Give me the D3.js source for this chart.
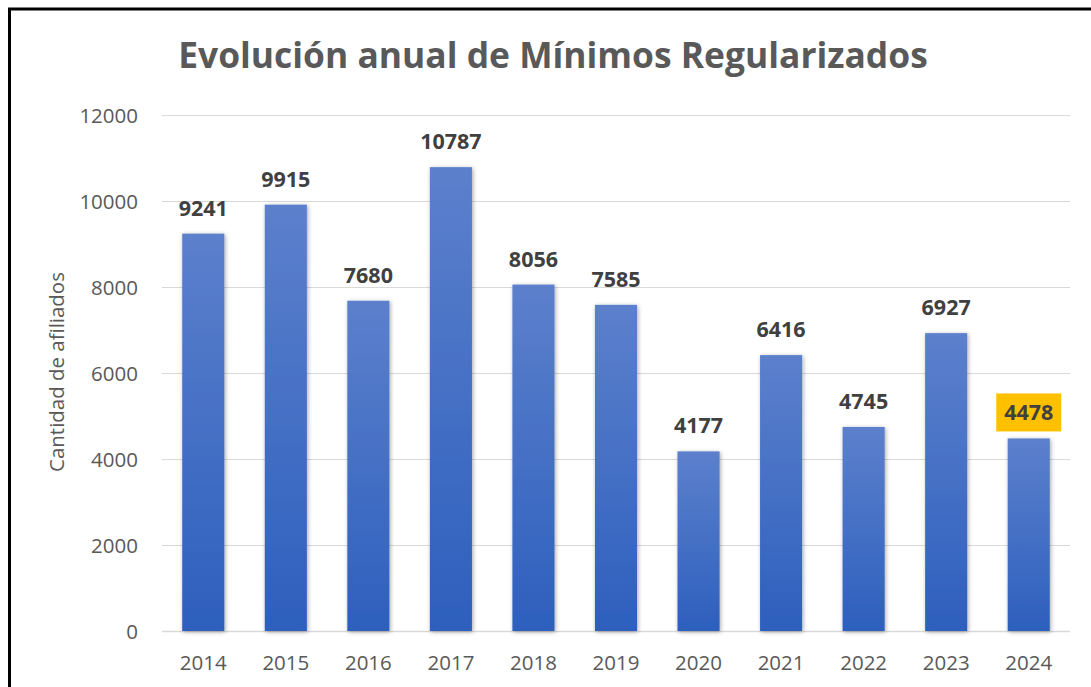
<!DOCTYPE html>
<html>
<head>
  <meta charset="utf-8">
  <title>Evolución anual de Mínimos Regularizados</title>
  <script src="https://d3js.org/d3.v7.min.js"></script>
  <style>
    body { margin: 0; background: #fff; font-family: "Open Sans", sans-serif; }
    svg { display: block; }
  </style>
</head>
<body>
<div id="chart"></div>
<script>
const years = ["2014", "2015", "2016", "2017", "2018", "2019", "2020", "2021", "2022", "2023", "2024"];
const values = [9241, 9915, 7680, 10787, 8056, 7585, 4177, 6416, 4745, 6927, 4478];
const yTicks = [0, 2000, 4000, 6000, 8000, 10000, 12000];
const highlightYear = "2024";

const width = 1091, height = 687;
const plotLeft = 162, plotRight = 1070, plotTop = 115, plotBottom = 631;

const svg = d3.select("#chart").append("svg")
  .attr("width", width)
  .attr("height", height);

const defs = svg.append("defs");
const grad = defs.append("linearGradient")
  .attr("id", "barGrad")
  .attr("x1", 0).attr("y1", 0).attr("x2", 0).attr("y2", 1);
grad.append("stop").attr("offset", "0%").attr("stop-color", "#5c80cc");
grad.append("stop").attr("offset", "100%").attr("stop-color", "#2d5fbd");

const shadow = defs.append("filter")
  .attr("id", "shadow")
  .attr("x", "-30%").attr("y", "-10%").attr("width", "160%").attr("height", "120%");
shadow.append("feDropShadow")
  .attr("dx", 1).attr("dy", 1)
  .attr("stdDeviation", 2.2)
  .attr("flood-color", "#000")
  .attr("flood-opacity", 0.35);

const x = d3.scaleBand()
  .domain(years)
  .range([plotLeft, plotRight])
  .paddingInner(0.49)
  .paddingOuter(0.245);

const y = d3.scaleLinear()
  .domain([0, 12000])
  .range([plotBottom, plotTop]);

// frame
svg.append("line")
  .attr("x1", 8).attr("x2", width).attr("y1", 9).attr("y2", 9)
  .attr("stroke", "#000").attr("stroke-width", 3);
svg.append("line")
  .attr("x1", 9.5).attr("x2", 9.5).attr("y1", 8).attr("y2", height)
  .attr("stroke", "#000").attr("stroke-width", 3);

// title
const title = svg.append("text")
  .attr("x", 553)
  .attr("y", 68)
  .attr("text-anchor", "middle")
  .attr("font-weight", "bold")
  .attr("font-size", 33)
  .attr("fill", "#595959")
  .text("Evolución anual de Mínimos Regularizados");
const tw = title.node().getComputedTextLength();
title.attr("font-size", 33 * 750 / tw);

// gridlines
svg.append("g")
  .selectAll("line")
  .data(yTicks)
  .join("line")
    .attr("x1", plotLeft).attr("x2", plotRight)
    .attr("y1", d => Math.round(y(d)) + 0.5)
    .attr("y2", d => Math.round(y(d)) + 0.5)
    .attr("stroke", "#d9d9d9")
    .attr("stroke-width", d => d === 0 ? 1.5 : 1);

// y axis
const yAxis = svg.append("g")
  .attr("transform", `translate(${plotLeft - 24},0)`)
  .call(d3.axisLeft(y).tickValues(yTicks).tickSize(0).tickPadding(0).tickFormat(d3.format("d")));
yAxis.select(".domain").remove();
yAxis.selectAll("text")
  .attr("font-family", "Open Sans")
  .attr("font-size", 20.5)
  .attr("fill", "#595959")
  .attr("dy", "0.36em");

// x axis
const xAxis = svg.append("g")
  .attr("transform", `translate(0,${plotBottom})`)
  .call(d3.axisBottom(x).tickSize(0).tickPadding(0));
xAxis.select(".domain").remove();
xAxis.selectAll("text")
  .attr("font-family", "Open Sans")
  .attr("font-size", 20.5)
  .attr("fill", "#595959")
  .attr("dy", 0)
  .attr("y", 39);

// y axis title
const yTitle = svg.append("text")
  .attr("transform", "translate(64,372) rotate(-90)")
  .attr("text-anchor", "middle")
  .attr("font-size", 19)
  .attr("fill", "#595959")
  .text("Cantidad de afiliados");
const yl = yTitle.node().getComputedTextLength();
yTitle.attr("font-size", 19 * 200 / yl);

// bars
svg.append("g")
  .selectAll("rect")
  .data(years.map((yr, i) => ({ year: yr, value: values[i] })))
  .join("rect")
    .attr("x", d => x(d.year))
    .attr("y", d => y(d.value))
    .attr("width", x.bandwidth())
    .attr("height", d => plotBottom - y(d.value))
    .attr("fill", "url(#barGrad)")
    .attr("filter", "url(#shadow)");

// highlight box behind label
const hv = values[years.indexOf(highlightYear)];
svg.append("rect")
  .attr("x", x(highlightYear) + x.bandwidth() / 2 - 32.5)
  .attr("y", y(hv) - 45)
  .attr("width", 65)
  .attr("height", 38)
  .attr("fill", "#ffc000");

// data labels
svg.append("g")
  .selectAll("text")
  .data(years.map((yr, i) => ({ year: yr, value: values[i] })))
  .join("text")
    .attr("x", d => x(d.year) + x.bandwidth() / 2)
    .attr("y", d => y(d.value) - 18)
    .attr("text-anchor", "middle")
    .attr("font-weight", "bold")
    .attr("font-size", 21.5)
    .attr("fill", "#404040")
    .text(d => d.value);
</script>
</body>
</html>
